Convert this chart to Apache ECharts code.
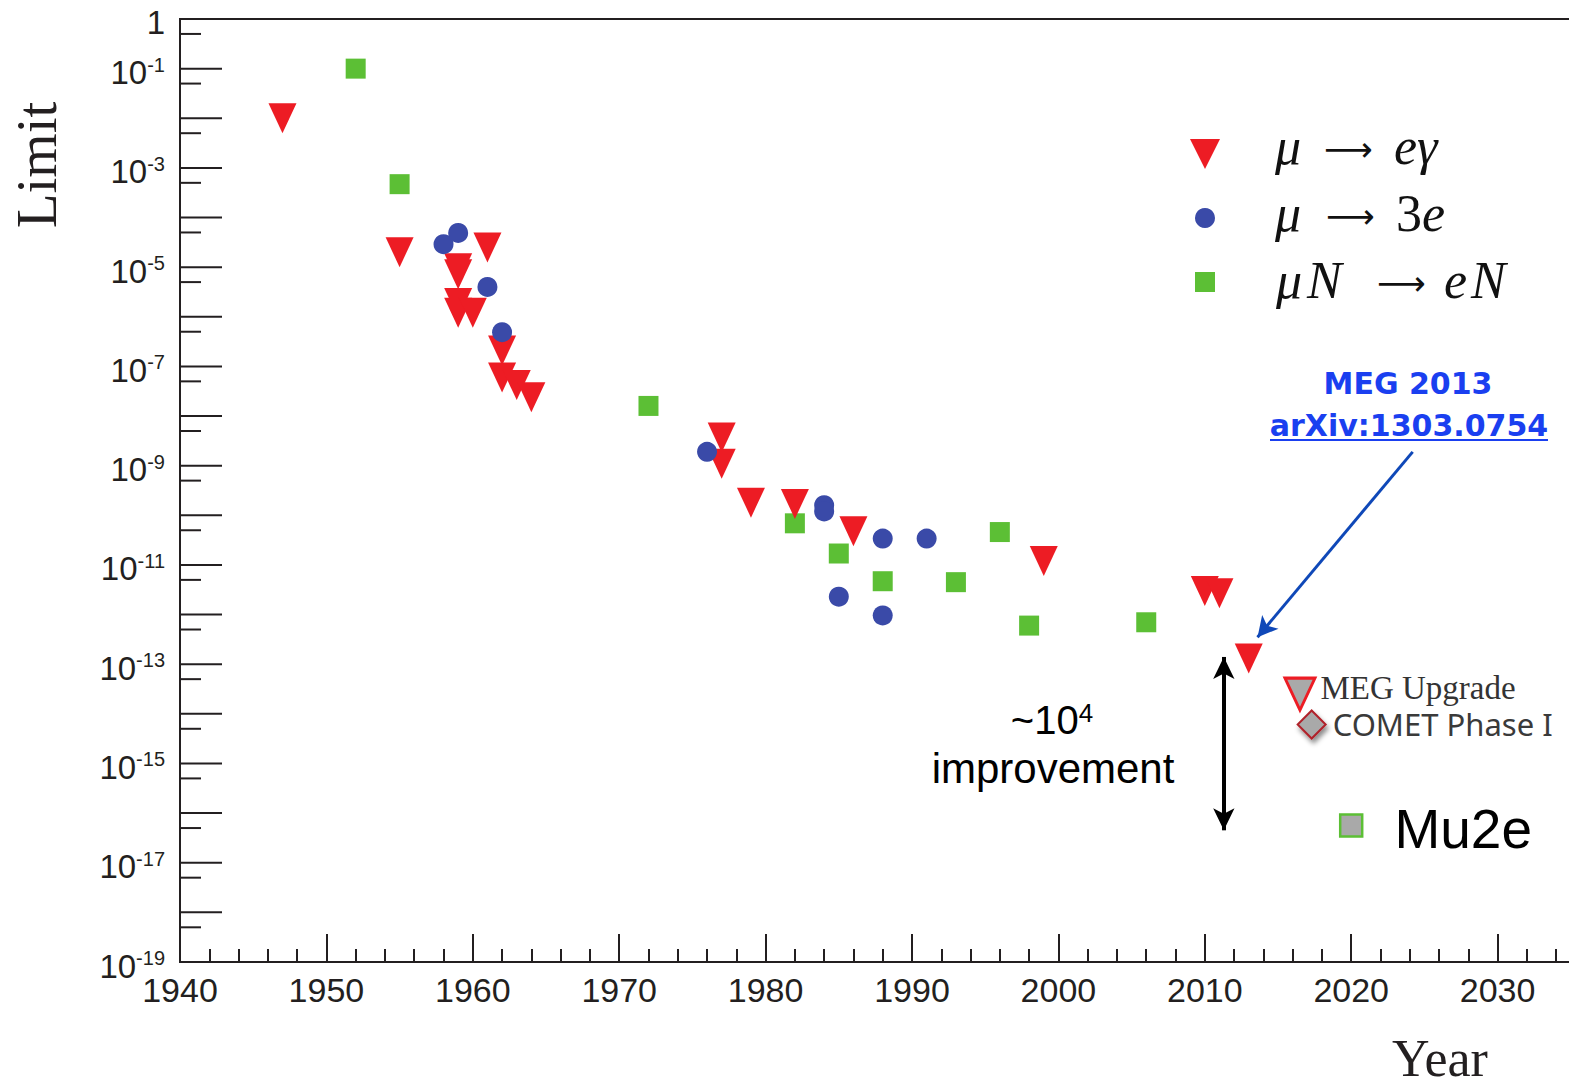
<!DOCTYPE html>
<html><head><meta charset="utf-8">
<script src="https://cdn.jsdelivr.net/npm/echarts@6/dist/echarts.min.js"></script>
<style>html,body{margin:0;padding:0;background:#fff;overflow:hidden}#c{width:1644px;height:1089px}</style>
</head><body><div id="c"></div>
<script>
// ---- data (year, upper limit on branching ratio) ----
const muEGamma = [
  [1947,1.0e-2],[1955,2.0e-5],[1959,9.5e-6],[1959,7.2e-6],[1959,1.9e-6],[1959,1.2e-6],
  [1960,1.2e-6],[1961,2.5e-5],[1962,2.1e-7],[1962,6.0e-8],[1963,4.2e-8],[1964,2.4e-8],
  [1977,3.7e-9],[1977,1.1e-9],[1979,1.8e-10],[1982,1.7e-10],[1986,4.8e-11],[1999,1.2e-11],
  [2010,3.0e-12],[2011,2.7e-12],[2013,1.3e-13]
];
const muThreeE = [
  [1958,2.9e-5],[1959,4.9e-5],[1961,4.0e-6],[1962,4.9e-7],[1976,1.9e-9],[1984,1.6e-10],
  [1984,1.2e-10],[1985,2.3e-12],[1988,3.4e-11],[1988,9.6e-13],[1991,3.4e-11]
];
const muNeN = [
  [1952,1.0e-1],[1955,4.7e-4],[1972,1.6e-8],[1982,6.9e-11],[1985,1.7e-11],[1988,4.7e-12],
  [1993,4.5e-12],[1996,4.6e-11],[1998,6.0e-13],[2006,7.0e-13]
];
const megUpgrade = [[2016.5,2.5e-14]];
const cometPhaseI = [[2017.3,6.1e-15]];
const mu2e = [[2020,5.6e-17]];
const improvementArrow = [[2011.3,1.4e-13],[2011.3,4.5e-17]];
const meg2013Arrow = [[2024.2,1.9e-9],[2013.6,3.5e-13]];

// ---- axis ticks / labels ----
const yMajorTicks = [1,1e-1,1e-2,1e-3,1e-4,1e-5,1e-6,1e-7,1e-8,1e-9,1e-10,1e-11,1e-12,1e-13,1e-14,1e-15,1e-16,1e-17,1e-18,1e-19];
const yMinorTicks = [5e-1,5e-2,5e-3,5e-4,5e-5,5e-6,5e-7,5e-8,5e-9,5e-10,5e-11,5e-12,5e-13,5e-14,5e-15,5e-16,5e-17,5e-18,5e-19];
const yLabelValues = [1,1e-1,1e-3,1e-5,1e-7,1e-9,1e-11,1e-13,1e-15,1e-17,1e-19];
const yLabelExponents = ['','-1','-3','-5','-7','-9','-11','-13','-15','-17','-19'];

const INK = '#231f20';
const X0 = 1940;

function tickSeries(values, len) {
  return {
    type:'custom', coordinateSystem:'cartesian2d', silent:true, z:5,
    data: values.map(v => [X0, v]),
    renderItem: (p, api) => {
      const pt = api.coord([api.value(0), api.value(1)]);
      return {type:'line', shape:{x1:pt[0], y1:pt[1], x2:pt[0]+len, y2:pt[1]},
              style:{stroke:INK, lineWidth:2}};
    }
  };
}

const labelSeries = {
  type:'custom', coordinateSystem:'cartesian2d', silent:true, z:5,
  data: yLabelValues.map((v,i) => [X0, v, i]),
  renderItem: (p, api) => {
    const pt = api.coord([api.value(0), api.value(1)]);
    const sup = yLabelExponents[api.value(2)];
    const txt = sup === '' ? '{b|1}' : '{b|10}{s|' + sup + '}';
    return {type:'text', style:{
      x: pt[0]-15, y: pt[1] + (sup === '' ? 3 : 4), text: txt, align:'right', verticalAlign:'middle',
      rich:{
        b:{fontSize:33, fontFamily:'Liberation Sans', fill:INK, lineHeight:36},
        s:{fontSize:20, fontFamily:'Liberation Sans', fill:INK, lineHeight:14, verticalAlign:'top'}
      }
    }};
  }
};

const serifItalic = {fontFamily:'Liberation Serif', fontStyle:'italic', fontSize:52, fill:'#111'};
const serifUp = {fontFamily:'Liberation Serif', fontSize:52, fill:'#111'};
const arrowStyle = {text:'⟶', fontFamily:'DejaVu Sans', fontSize:34, fill:'#111', align:'left', verticalAlign:'middle'};

const chart = echarts.init(document.getElementById('c'), null, {renderer:'svg', width:1644, height:1089});
const option = {
  animation:false,
  backgroundColor:'#ffffff',
  grid:{left:180, top:19, right:0, bottom:127, show:true, borderColor:INK, borderWidth:2, backgroundColor:'transparent'},
  xAxis:{
    type:'value', min:1940, max:2040, interval:10,
    axisLine:{show:true, onZero:false, lineStyle:{color:INK, width:2}},
    axisTick:{show:true, inside:true, length:28, lineStyle:{color:INK, width:2}},
    minorTick:{show:true, splitNumber:5, length:13, lineStyle:{color:INK, width:2}},
    splitLine:{show:false}, minorSplitLine:{show:false},
    axisLabel:{show:true, margin:11, fontSize:34, fontFamily:'Liberation Sans', color:INK,
      showMinLabel:true, showMaxLabel:false, formatter: v => (v <= 2030 ? String(v) : '')}
  },
  yAxis:{
    type:'log', logBase:10, min:1e-19, max:1,
    axisLine:{show:true, onZero:false, lineStyle:{color:INK, width:2}},
    axisTick:{show:false}, axisLabel:{show:false}, splitLine:{show:false}
  },
  series:[
    tickSeries(yMajorTicks, 42),
    tickSeries(yMinorTicks, 21),
    labelSeries,
    {name:'μN → eN', type:'scatter', data:muNeN, symbol:'rect', symbolSize:20,
     itemStyle:{color:'#5cbf35', opacity:1}, z:3},
    {name:'μ → eγ', type:'scatter', data:muEGamma, symbol:'triangle', symbolRotate:180, symbolSize:[28,30],
     itemStyle:{color:'#ed1c24', opacity:1}, z:3},
    {name:'μ → 3e', type:'scatter', data:muThreeE, symbol:'circle', symbolSize:20,
     itemStyle:{color:'#3a4aa8', opacity:1}, z:3},
    {name:'MEG Upgrade', type:'scatter', data:megUpgrade, symbol:'triangle', symbolRotate:180, symbolSize:[30,32],
     itemStyle:{color:'#a9a9a9', borderColor:'#ed1c24', borderWidth:3, opacity:1}, z:3,
     label:{show:true, position:'right', distance:4, offset:[0,-6], formatter:'MEG Upgrade',
            fontFamily:'Liberation Serif', fontSize:33, color:'#333333'},
     markLine:{silent:true, animation:false, label:{show:false}, emphasis:{disabled:true},
       data:[
         [{coord:improvementArrow[0], symbol:'arrow', symbolSize:[16,22], lineStyle:{color:'#000', width:4, type:'solid'}},
          {coord:improvementArrow[1], symbol:'arrow', symbolSize:[16,22]}],
         [{coord:meg2013Arrow[0], symbol:'none', lineStyle:{color:'#0f48b8', width:3, type:'solid'}},
          {coord:meg2013Arrow[1], symbol:'arrow', symbolSize:[16,20]}]
       ]}},
    {name:'COMET Phase I', type:'scatter', data:cometPhaseI, symbol:'diamond', symbolSize:28,
     itemStyle:{color:'#a9a9a9', borderColor:'#b0202a', borderWidth:2, shadowBlur:5,
                shadowColor:'rgba(0,0,0,0.45)', shadowOffsetX:2, shadowOffsetY:4, opacity:1}, z:3,
     label:{show:true, position:'right', distance:6, offset:[0,0], formatter:'COMET Phase I',
            fontFamily:'Noto Sans', fontSize:31, color:'#3a3a3a'}},
    {name:'Mu2e', type:'scatter', data:mu2e, symbol:'rect', symbolSize:22,
     itemStyle:{color:'#a9a9a9', borderColor:'#5cbf35', borderWidth:2.5, opacity:1}, z:3,
     label:{show:true, position:'right', distance:31, offset:[0,3], formatter:'Mu2e',
            fontFamily:'Liberation Sans', fontSize:55, color:'#000'}}
  ],
  graphic:[
    // axis titles
    {type:'text', x:36, y:165, rotation:Math.PI/2, style:{text:'Limit', fontFamily:'Liberation Serif', fontSize:57,
      fill:INK, align:'center', verticalAlign:'middle'}},
    {type:'text', x:1440, y:1058, style:{text:'Year', fontFamily:'Liberation Serif', fontSize:52,
      fill:INK, align:'center', verticalAlign:'middle'}},
    // legend
    {type:'polygon', shape:{points:[[1190,139],[1220,139],[1205,169]]}, style:{fill:'#ed1c24'}},
    {type:'circle', shape:{cx:1205, cy:218, r:10}, style:{fill:'#3a4aa8'}},
    {type:'rect', shape:{x:1195, y:272, width:20, height:20}, style:{fill:'#5cbf35'}},
    {type:'text', x:1275, y:146, style:Object.assign({text:'μ', align:'left', verticalAlign:'middle'}, serifItalic)},
    {type:'text', x:1324, y:149, style:arrowStyle},
    {type:'text', x:1394, y:146, style:Object.assign({text:'eγ', align:'left', verticalAlign:'middle'}, serifItalic)},
    {type:'text', x:1275, y:213, style:Object.assign({text:'μ', align:'left', verticalAlign:'middle'}, serifItalic)},
    {type:'text', x:1326, y:216, style:arrowStyle},
    {type:'text', x:1396, y:213, style:{text:'{n|3}{i|e}', align:'left', verticalAlign:'middle',
      rich:{n:serifUp, i:serifItalic}}},
    {type:'text', x:1276, y:280, style:{text:'{i|μ}{j|N}', align:'left', verticalAlign:'middle',
      rich:{i:serifItalic, j:Object.assign({padding:[0,0,0,5]}, serifItalic)}}},
    {type:'text', x:1377, y:283, style:arrowStyle},
    {type:'text', x:1444, y:280, style:{text:'{i|e}{j|N}', align:'left', verticalAlign:'middle',
      rich:{i:serifItalic, j:Object.assign({padding:[0,0,0,4]}, serifItalic)}}},
    // MEG 2013 annotation
    {type:'text', x:1408, y:383, style:{text:'MEG 2013', fontFamily:'DejaVu Sans', fontWeight:'bold', fontSize:30,
      fill:'#1a3ff0', align:'center', verticalAlign:'middle'}},
    {type:'text', x:1409, y:425, style:{text:'arXiv:1303.0754', fontFamily:'DejaVu Sans', fontWeight:'bold', fontSize:30,
      fill:'#1a3ff0', align:'center', verticalAlign:'middle'}},
    {type:'line', shape:{x1:1270, y1:440, x2:1548, y2:440}, style:{stroke:'#1a3ff0', lineWidth:2}},
    // improvement annotation
    {type:'text', x:1052, y:720, style:{text:'{n|~10}{s|4}', align:'center', verticalAlign:'middle',
      rich:{n:{fontFamily:'Liberation Sans', fontSize:40, fill:'#000', lineHeight:40},
            s:{fontFamily:'Liberation Sans', fontSize:26, fill:'#000', lineHeight:26, verticalAlign:'top'}}}},
    {type:'text', x:1053, y:768, style:{text:'improvement', fontFamily:'Liberation Sans', fontSize:42,
      fill:'#000', align:'center', verticalAlign:'middle'}}
  ]
};
chart.setOption(option);
</script>
</body></html>
